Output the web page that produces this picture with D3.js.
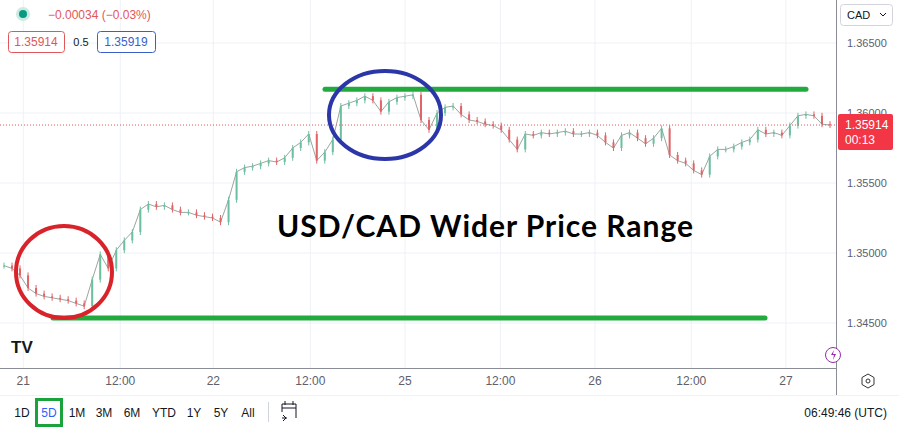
<!DOCTYPE html>
<html><head><meta charset="utf-8">
<script src="https://cdn.jsdelivr.net/npm/d3@7"></script>
<style>body{margin:0;background:#fff}svg{display:block;font-family:"Liberation Sans",Arial,sans-serif}</style>
</head><body><svg id="c" width="899" height="431"></svg>
<script>
// hourly-ish closes
const closes = [1.3491,1.3489,1.3484,1.3475,1.3471,1.3469,1.3468,1.3467,1.3466,1.3464,1.3462,1.3481,1.3499,1.3489,1.3502,1.3509,1.3515,1.3531,1.3535,1.3533,1.3534,1.3531,1.3529,1.3529,1.3527,1.3526,1.3525,1.3522,1.3538,1.3558,1.3561,1.3562,1.3564,1.3566,1.3565,1.3568,1.3575,1.3579,1.3585,1.3566,1.3572,1.3581,1.3605,1.3607,1.3609,1.3612,1.3609,1.3601,1.3608,1.3611,1.3612,1.3613,1.3595,1.3588,1.3600,1.3604,1.3605,1.3599,1.3595,1.3594,1.3592,1.3591,1.3588,1.3581,1.3574,1.3585,1.3584,1.3586,1.3585,1.3586,1.3587,1.3585,1.3585,1.3586,1.3584,1.3579,1.3575,1.3584,1.3586,1.3582,1.3578,1.3582,1.3589,1.3570,1.3566,1.3564,1.3559,1.3556,1.3569,1.3574,1.3574,1.3576,1.3579,1.3581,1.3588,1.3585,1.3586,1.3584,1.3591,1.3598,1.3599,1.3598,1.3592,1.35914];
const priceTicks = [1.365,1.36,1.355,1.35,1.345];
const timeTicks = [{i:2.4,t:"21"},{i:14.5,t:"12:00"},{i:26.1,t:"22"},{i:38.2,t:"12:00"},{i:50,t:"25"},{i:61.9,t:"12:00"},{i:73.7,t:"26"},{i:85.7,t:"12:00"},{i:97.5,t:"27"}];
const ranges = ["1D","5D","1M","3M","6M","YTD","1Y","5Y","All"];
const resistance = 1.3617, support = 1.34535;
const lastPrice = 1.35914;

const svg = d3.select("#c");
const x = d3.scaleLinear().domain([0, closes.length - 1]).range([4, 830]);
const y = d3.scaleLinear().domain([1.345, 1.365]).range([323, 43]);

// grid
svg.selectAll(".hg").data(priceTicks).join("line")
  .attr("x1",0).attr("x2",836).attr("y1",d=>y(d)).attr("y2",d=>y(d)).attr("stroke","#eef1f6");
svg.selectAll(".vg").data(timeTicks).join("line")
  .attr("x1",d=>x(d.i)).attr("x2",d=>x(d.i)).attr("y1",0).attr("y2",368).attr("stroke","#eef1f6");

// price path under the candles
svg.append("path").datum(closes)
  .attr("d", d3.line().x((d,i)=>x(i)).y(d=>y(d)))
  .attr("fill","none").attr("stroke","#9aa69f").attr("stroke-width",1);

// candles
const g = svg.append("g");
closes.forEach((c, i) => {
  const o = i ? closes[i-1] : c;
  const up = c >= o;
  const col = up ? "#6cbf9f" : "#e06468";
  g.append("line").attr("x1",x(i)).attr("x2",x(i))
    .attr("y1",y(Math.max(o,c))-3).attr("y2",y(Math.min(o,c))+3).attr("stroke",col);
  g.append("rect").attr("x",x(i)-1).attr("width",2)
    .attr("y",y(Math.max(o,c))).attr("height",Math.max(1,Math.abs(y(o)-y(c)))).attr("fill",col);
});

// last price line
svg.append("line").attr("x1",0).attr("x2",836).attr("y1",y(lastPrice)).attr("y2",y(lastPrice))
  .attr("stroke","#e0575b").attr("stroke-dasharray","1,2");

// annotations
svg.append("line").attr("x1",325).attr("x2",806).attr("y1",y(resistance)).attr("y2",y(resistance)).attr("stroke","#22aa3e").attr("stroke-width",5).attr("stroke-linecap","round");
svg.append("line").attr("x1",53).attr("x2",765).attr("y1",y(support)).attr("y2",y(support)).attr("stroke","#22aa3e").attr("stroke-width",5).attr("stroke-linecap","round");
svg.append("ellipse").attr("cx",64).attr("cy",272).attr("rx",48).attr("ry",46).attr("fill","none").attr("stroke","#d9232b").attr("stroke-width",4);
svg.append("ellipse").attr("cx",385).attr("cy",115).attr("rx",56).attr("ry",44).attr("fill","none").attr("stroke","#2b36a8").attr("stroke-width",4);
svg.append("text").attr("x",277).attr("y",237).attr("textLength",416).attr("font-size",30).attr("font-weight","bold")
  .attr("font-family","Lato, sans-serif").attr("fill","#000").text("USD/CAD Wider Price Range");

// price axis
svg.append("line").attr("x1",836.5).attr("x2",836.5).attr("y1",0).attr("y2",395).attr("stroke","#8a8d96");
svg.selectAll(".pt").data(priceTicks).join("text").attr("x",847).attr("y",d=>y(d)+4)
  .attr("font-size",11).attr("fill","#5d606b").text(d=>d.toFixed(5));
svg.append("rect").attr("x",838).attr("y",114).attr("width",55).attr("height",36).attr("rx",2).attr("fill","#f23645");
svg.append("text").attr("x",845).attr("y",129).attr("font-size",12).attr("fill","#fff").text(lastPrice.toFixed(5));
svg.append("text").attr("x",845).attr("y",144).attr("font-size",12).attr("fill","#fff").text("00:13");
svg.append("rect").attr("x",840.5).attr("y",4.5).attr("width",52).attr("height",21).attr("rx",3).attr("fill","#fff").attr("stroke","#d1d4dc");
svg.append("text").attr("x",847).attr("y",19).attr("font-size",11).attr("fill","#131722").text("CAD");
svg.append("path").attr("d","M880 13l3 3 3-3").attr("fill","none").attr("stroke","#131722");

// time axis
svg.append("line").attr("x1",0).attr("x2",837).attr("y1",368.5).attr("y2",368.5).attr("stroke","#8a8d96");
svg.selectAll(".tt").data(timeTicks).join("text").attr("x",d=>x(d.i)).attr("y",385).attr("text-anchor","middle")
  .attr("font-size",12).attr("fill","#5d606b").text(d=>d.t);
svg.append("path").attr("d","M868 374l6 3.5v7l-6 3.5-6-3.5v-7z").attr("fill","none").attr("stroke","#333");
svg.append("circle").attr("cx",868).attr("cy",381).attr("r",2).attr("fill","none").attr("stroke","#333");
svg.append("circle").attr("cx",833).attr("cy",355).attr("r",7.5).attr("fill","#fff").attr("stroke","#9c27b0");
svg.append("path").attr("d","M834 350l-3 5h3l-1 5 3-6h-3z").attr("fill","#9c27b0");
svg.append("text").attr("x",11).attr("y",353).attr("font-size",17).attr("font-weight","bold").attr("fill","#131722").text("TV");

// bottom toolbar
svg.append("line").attr("x1",0).attr("x2",899).attr("y1",395.5).attr("y2",395.5).attr("stroke","#eef1f6");
const rx = [22,49,77,104,132,164,194,221,248];
svg.append("rect").attr("x",36.5).attr("y",399.5).attr("width",25).attr("height",26).attr("fill","none").attr("stroke","#1aa33a").attr("stroke-width",3);
svg.selectAll(".rg").data(ranges).join("text").attr("x",(d,i)=>rx[i]).attr("y",417).attr("text-anchor","middle")
  .attr("font-size",12).attr("fill",(d,i)=>i===1?"#2962ff":"#131722").text(d=>d);
svg.append("line").attr("x1",268.5).attr("x2",268.5).attr("y1",402).attr("y2",422).attr("stroke","#d1d4dc");
svg.append("path").attr("d","M282 404h14v14M282 404v8M285 401v4M293 401v4M282 408h14M282 418h5M283 415l3 3-3 3").attr("fill","none").attr("stroke","#131722");
svg.append("text").attr("x",887).attr("y",417).attr("text-anchor","end").attr("font-size",12).attr("fill","#131722").text("06:49:46 (UTC)");

// legend top left
svg.append("circle").attr("cx",23).attr("cy",14).attr("r",7).attr("fill","#c9ebe3");
svg.append("circle").attr("cx",23).attr("cy",14).attr("r",4).attr("fill","#089981");
svg.append("text").attr("x",48).attr("y",19).attr("font-size",12).attr("fill","#e0575b").text("\u22120.00034 (\u22120.03%)");
svg.append("rect").attr("x",8.5).attr("y",31.5).attr("width",56).attr("height",21).attr("rx",3).attr("fill","#fff").attr("stroke","#e0575b");
svg.append("text").attr("x",36).attr("y",46).attr("text-anchor","middle").attr("font-size",12).attr("fill","#e0575b").text("1.35914");
svg.append("text").attr("x",81).attr("y",46).attr("text-anchor","middle").attr("font-size",11).attr("fill","#131722").text("0.5");
svg.append("rect").attr("x",97.5).attr("y",31.5).attr("width",58).attr("height",21).attr("rx",3).attr("fill","#fff").attr("stroke","#3a5fc8");
svg.append("text").attr("x",126).attr("y",46).attr("text-anchor","middle").attr("font-size",12).attr("fill","#3a5fc8").text("1.35919");
</script></body></html>
